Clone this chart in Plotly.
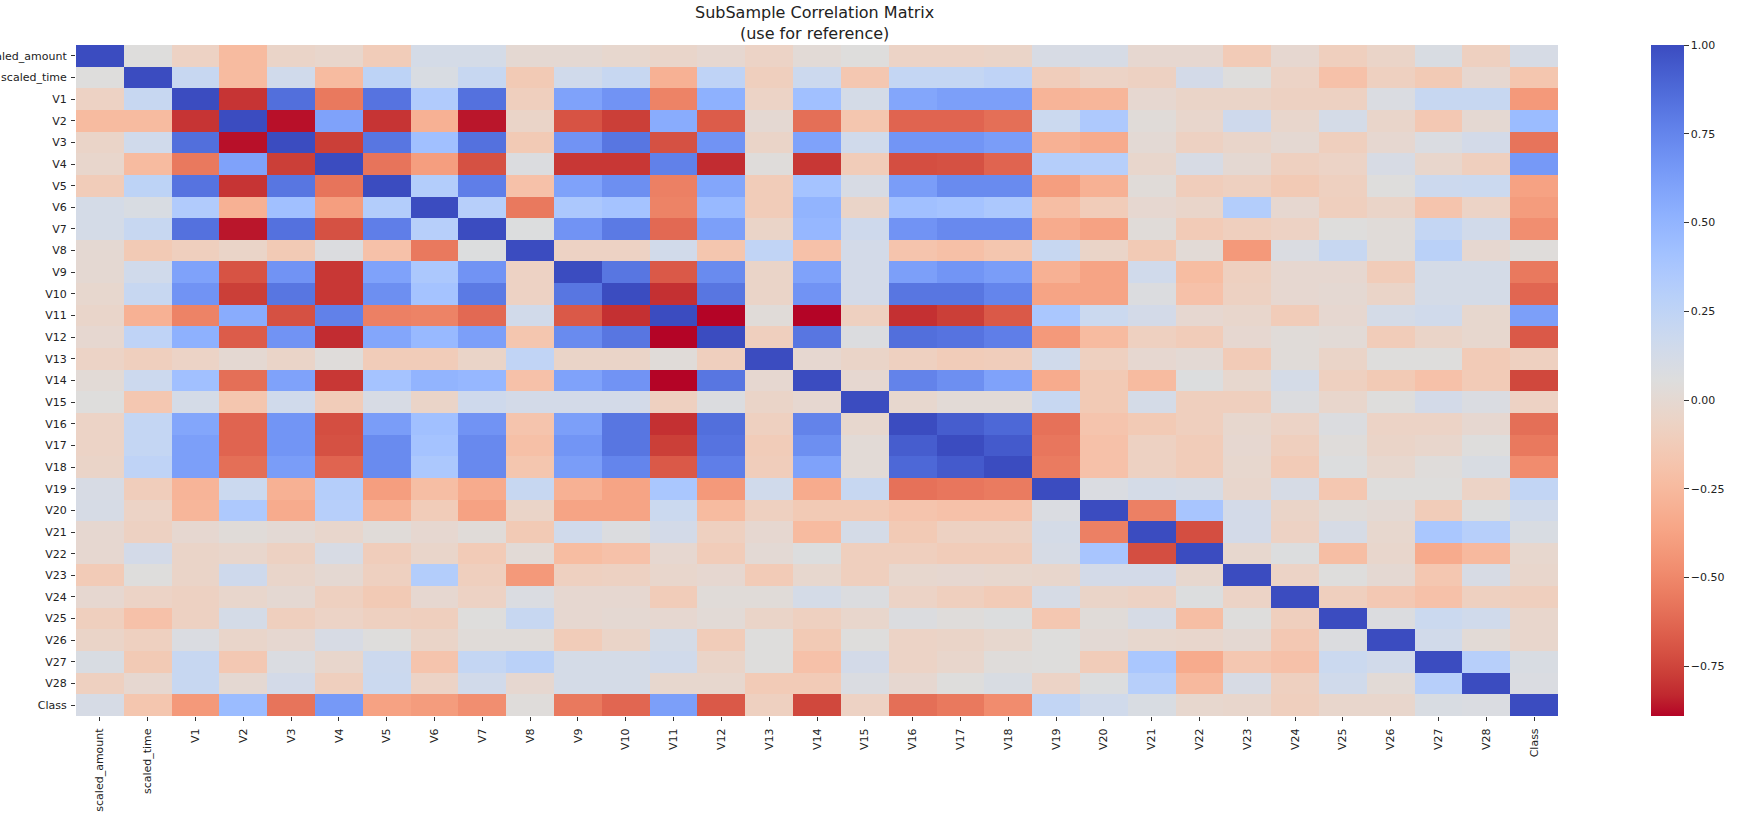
import plotly.graph_objects as go

labels = ["scaled_amount", "scaled_time"] + [f"V{i}" for i in range(1, 29)] + ["Class"]

# Upper triangle of the correlation matrix (each row starts after the diagonal)
r_amount = [.05,-.07,-.24,-.05,-.03,-.12,.12,.12,0,0,-.02,-.04,-.01,-.06,.02,.05,-.06,-.06,-.05,.1,.11,-.01,-.01,-.13,-.01,-.1,-.05,.09,-.09,.11]
r_time = [.2,-.24,.15,-.24,.26,.09,.2,-.14,.15,.2,-.3,.25,-.1,.17,-.16,.22,.22,.25,-.11,-.06,-.08,.13,.05,-.06,-.2,-.09,-.14,-.01,-.17]
r_v1 = [-.8,.85,-.56,.83,.33,.84,-.1,.6,.68,-.52,.52,-.06,.42,.12,.58,.62,.62,-.28,-.27,-.01,-.05,-.05,-.08,-.08,.08,.2,.2,-.42]
r_v2 = [-.87,.6,-.8,-.3,-.86,-.05,-.7,-.77,.55,-.67,0,-.6,-.17,-.64,-.64,-.6,.18,.35,.03,-.03,.16,-.03,.12,-.04,-.15,0,.45]
r_v3 = [-.77,.82,.42,.84,-.14,.68,.82,-.71,.68,-.05,.6,.15,.67,.67,.63,-.3,-.33,.01,-.08,-.04,0,-.1,-.01,.08,.13,-.58]
r_v4 = [-.58,-.4,-.71,.07,-.79,-.79,.77,-.82,.04,-.79,-.12,-.72,-.71,-.64,.31,.3,-.03,.1,0,-.09,-.06,.1,-.03,-.1,.65]
r_v5 = [.32,.78,-.2,.6,.7,-.53,.58,-.12,.4,.1,.63,.72,.72,-.4,-.3,.03,-.11,-.09,-.14,-.09,.05,.17,.18,-.38]
r_v6 = [.3,-.56,.36,.4,-.52,.47,-.12,.5,-.05,.42,.4,.36,-.22,-.12,-.01,-.04,.32,-.01,-.1,-.05,-.18,-.06,-.41]
r_v7 = [.06,.68,.8,-.62,.62,-.05,.48,.16,.68,.73,.73,-.33,-.38,.03,-.13,-.1,-.07,.05,.03,.22,.14,-.47]
r_v8 = [-.07,-.07,.14,-.17,.24,-.2,.13,-.18,-.21,-.17,.2,-.05,-.14,.02,-.42,.08,.2,.03,.28,-.01,.04]
r_v9 = [.82,-.68,.72,-.05,.6,.13,.62,.67,.63,-.3,-.37,.15,-.23,-.09,-.01,-.01,-.12,.12,.12,-.56]
r_v10 = [-.81,.82,-.05,.68,.13,.82,.82,.75,-.37,-.37,.07,-.2,-.08,-.01,0,-.05,.12,.12,-.63]
r_v11 = [-.89,.03,-.89,-.09,-.81,-.77,-.68,.37,.18,.13,-.01,-.03,-.12,-.01,.12,.15,-.02,.62]
r_v12 = [-.1,.82,.07,.85,.83,.78,-.42,-.24,-.09,-.12,-.01,.03,.02,-.12,-.05,-.02,-.68]
r_v13 = [-.01,-.05,-.09,-.12,-.11,.15,-.09,-.01,.01,-.13,.03,-.05,.05,.05,-.13,-.09]
r_v14 = [-.01,.76,.7,.6,-.33,-.14,-.24,.06,-.02,.12,-.09,-.14,-.2,-.13,-.74]
r_v15 = [-.02,.02,.02,.2,-.14,.12,-.1,-.1,.07,-.03,.05,.13,.08,-.07]
r_v16 = [.93,.88,-.59,-.18,-.14,-.1,-.02,-.06,.07,-.06,-.06,-.01,-.6]
r_v17 = [.94,-.57,-.2,-.08,-.12,-.01,-.1,.04,-.05,-.03,.05,-.56]
r_v18 = [-.55,-.2,-.08,-.12,-.02,-.13,.06,-.02,.04,.09,-.48]
r_v19 = [.08,.12,.11,-.03,.11,-.16,.05,.05,-.06,.23]
r_v20 = [-.53,.38,.13,-.05,.03,.01,-.12,.06,.15]
r_v21 = [-.72,.13,-.07,.11,-.02,.37,.3,.09]
r_v22 = [-.02,.06,-.22,-.03,-.33,-.25,-.02]
r_v23 = [-.06,.05,0,-.16,.1,-.03]
r_v24 = [-.1,-.15,-.2,-.09,-.1]
r_v25 = [.07,.18,.15,-.03]
r_v26 = [.14,.02,-.03]
r_v27 = [.3,.09]
r_v28 = [.08]

upper = [r_amount, r_time, r_v1, r_v2, r_v3, r_v4, r_v5, r_v6, r_v7, r_v8, r_v9, r_v10,
         r_v11, r_v12, r_v13, r_v14, r_v15, r_v16, r_v17, r_v18, r_v19, r_v20, r_v21,
         r_v22, r_v23, r_v24, r_v25, r_v26, r_v27, r_v28, []]

n = len(labels)
z = [[1.0] * n for _ in range(n)]
for i, row in enumerate(upper):
    for k, v in enumerate(row):
        z[i][i + 1 + k] = v
        z[i + 1 + k][i] = v

coolwarm_rgb = [(59,76,192),(68,90,204),(77,104,215),(87,117,225),(98,130,234),(108,142,241),
    (119,154,247),(130,165,251),(141,176,254),(152,185,255),(163,194,255),(174,201,253),
    (184,208,249),(194,213,244),(204,217,238),(213,219,230),(221,221,221),(229,216,209),
    (236,211,197),(241,204,185),(245,196,173),(247,187,160),(247,177,148),(247,166,135),
    (244,154,123),(241,141,111),(236,127,99),(229,112,88),(222,96,77),(213,80,66),
    (203,62,56),(192,40,47),(180,4,38)]
colorscale = [[1 - i / 32, f"rgb{c}"] for i, c in reversed(list(enumerate(coolwarm_rgb)))]

FONT = "DejaVu Sans"
W, H = 1749, 819
L, R, T, B = 76, 1558, 45, 716

fig = go.Figure(go.Heatmap(
    z=z, x=labels, y=labels, zmin=-0.89, zmax=1.0, colorscale=colorscale,
    colorbar=dict(
        x=(1651 - L) / (R - L), xanchor="left", xref="paper", y=0.5, yanchor="middle", len=1, lenmode="fraction",
        thickness=33, thicknessmode="pixels", xpad=0, ypad=0, outlinewidth=0,
        tickvals=[1, .75, .5, .25, 0, -.25, -.5, -.75], tickformat=".2f",
        ticks="outside", ticklen=5, tickwidth=1, tickcolor="#333",
        tickfont=dict(family=FONT, size=11, color="#222"),
    ),
))
fig.update_layout(
    width=W, height=H, margin=dict(l=L, r=W - R, t=T, b=H - B),
    paper_bgcolor="white", plot_bgcolor="white", font=dict(family=FONT, color="#222"),
    xaxis=dict(type="category", tickangle=-90, ticks="outside", ticklen=4, tickcolor="#333",
               tickfont=dict(family=FONT, size=11, color="#222"), showgrid=False, zeroline=False,
               automargin=False, ticklabelstandoff=3),
    yaxis=dict(type="category", autorange="reversed", ticks="outside", ticklen=4, tickcolor="#333",
               tickfont=dict(family=FONT, size=11, color="#222"), showgrid=False, zeroline=False,
               automargin=False, ticklabelstandoff=2),
    annotations=[dict(text="SubSample Correlation Matrix<br>(use for reference)",
        x=(814 - L) / (R - L), xref="paper", xanchor="center", y=1.0, yref="paper", yanchor="bottom", yshift=0,
        showarrow=False, font=dict(family=FONT, size=16, color="#222"))],
)
fig.write_html("out.html", config={"displayModeBar": False},
               post_script="document.body.style.margin='0';document.documentElement.style.overflow='hidden';")
